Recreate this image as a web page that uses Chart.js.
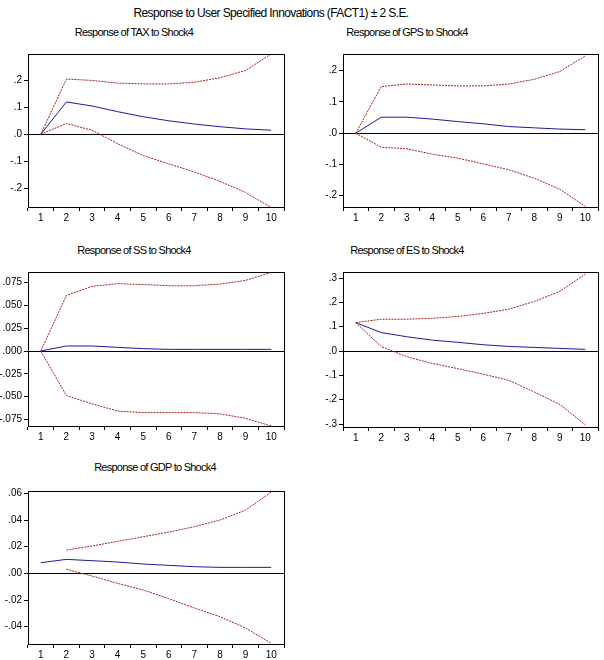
<!DOCTYPE html>
<html>
<head>
<meta charset="utf-8">
<script src="https://cdn.jsdelivr.net/npm/chart.js@4/dist/chart.umd.min.js"></script>
<style>
  html, body { margin: 0; padding: 0; background: #fff; }
  body { width: 604px; height: 660px; position: relative; overflow: hidden; font-family: "Liberation Sans", Arial, sans-serif; }
  .t { position: absolute; white-space: nowrap; color: #000; transform: translate(-50%, -50%); }
  .main { font-size: 12px; letter-spacing: -0.6px; }
  .sub { font-size: 11px; letter-spacing: -0.75px; }
  canvas { position: absolute; }
</style>
</head>
<body>
<div class="t main" id="mainTitle" style="left:271px; top:13px;">Response to User Specified Innovations (FACT1) ± 2 S.E.</div>

<script>
// ---------- data ----------
const periods = ["1","2","3","4","5","6","7","8","9","10"];

const taxResp  = [0, 0.120, 0.105, 0.084, 0.065, 0.050, 0.038, 0.028, 0.020, 0.015];
const taxUpper = [0, 0.205, 0.200, 0.190, 0.187, 0.187, 0.193, 0.210, 0.237, 0.298];
const taxLower = [0, 0.040, 0.015, -0.035, -0.079, -0.110, -0.140, -0.175, -0.216, -0.272];
const taxTicks = [-0.2, -0.1, 0, 0.1, 0.2];

const gpsResp  = [0, 0.051, 0.051, 0.045, 0.037, 0.030, 0.021, 0.017, 0.013, 0.011];
const gpsUpper = [0, 0.149, 0.157, 0.154, 0.151, 0.151, 0.157, 0.172, 0.197, 0.247];
const gpsLower = [0, -0.045, -0.050, -0.067, -0.080, -0.098, -0.117, -0.144, -0.179, -0.234];
const gpsTicks = [-0.2, -0.1, 0, 0.1, 0.2];

const ssResp  = [0, 0.0055, 0.0055, 0.0040, 0.0026, 0.0018, 0.0018, 0.0018, 0.0018, 0.0018];
const ssUpper = [0, 0.061, 0.071, 0.074, 0.073, 0.0717, 0.0717, 0.0735, 0.0776, 0.0864];
const ssLower = [0, -0.049, -0.058, -0.066, -0.0677, -0.0677, -0.0677, -0.069, -0.074, -0.0824];
const ssTicks = [-0.075, -0.05, -0.025, 0, 0.025, 0.05, 0.075];

const esResp  = [0.117, 0.076, 0.059, 0.045, 0.036, 0.026, 0.019, 0.015, 0.011, 0.007];
const esUpper = [0.117, 0.131, 0.131, 0.135, 0.142, 0.155, 0.172, 0.204, 0.245, 0.316];
const esLower = [0.117, 0.018, -0.023, -0.051, -0.072, -0.095, -0.120, -0.168, -0.219, -0.303];
const esTicks = [-0.3, -0.2, -0.1, 0, 0.1, 0.2, 0.3];

const gdpResp  = [0.008, 0.0105, 0.0095, 0.0085, 0.007, 0.006, 0.005, 0.0045, 0.0045, 0.0045];
const gdpUpper = [null, 0.0175, 0.0205, 0.024, 0.0275, 0.031, 0.035, 0.040, 0.0475, 0.061];
const gdpLower = [null, 0.003, -0.002, -0.0075, -0.0125, -0.019, -0.026, -0.0325, -0.041, -0.0525];
const gdpTicks = [-0.04, -0.02, 0, 0.02, 0.04, 0.06];

const panelTitles = ["Response of TAX to Shock4", "Response of GPS to Shock4", "Response of SS to Shock4", "Response of ES to Shock4", "Response of GDP to Shock4"];

// ---------- layout ----------
const panels = [
  { title: panelTitles[0], tx: 134, ty: 32, area: [28, 54, 284, 207], min: -0.27, max: 0.298, dec: 1, ticks: taxTicks, resp: taxResp, up: taxUpper, lo: taxLower },
  { title: panelTitles[1], tx: 407, ty: 32, area: [343, 54, 598, 207], min: -0.236, max: 0.253, dec: 1, ticks: gpsTicks, resp: gpsResp, up: gpsUpper, lo: gpsLower },
  { title: panelTitles[2], tx: 134, ty: 250, area: [28, 272, 284, 426], min: -0.0824, max: 0.0868, dec: 3, ticks: ssTicks, resp: ssResp, up: ssUpper, lo: ssLower },
  { title: panelTitles[3], tx: 407, ty: 250, area: [343, 272, 598, 427], min: -0.312, max: 0.325, dec: 1, ticks: esTicks, resp: esResp, up: esUpper, lo: esLower },
  { title: panelTitles[4], tx: 155, ty: 467, area: [28, 491, 284, 644], min: -0.053, max: 0.0618, dec: 2, ticks: gdpTicks, resp: gdpResp, up: gdpUpper, lo: gdpLower }
];

const RED = "#a82020";
const BLUE = "#1a1aa0";
const FONT = { family: "'Liberation Sans', Arial, sans-serif", size: 10 };

const framePlugin = {
  id: "frame",
  beforeDatasetsDraw(chart) {
    const a = chart.chartArea, ctx = chart.ctx;
    const y0 = chart.scales.y.getPixelForValue(0);
    ctx.save();
    ctx.strokeStyle = "#000";
    ctx.lineWidth = 1;
    ctx.beginPath();
    ctx.moveTo(a.left, Math.round(y0) + 0.5);
    ctx.lineTo(a.right, Math.round(y0) + 0.5);
    ctx.stroke();
    ctx.restore();
  },
  afterDatasetsDraw(chart) {
    const a = chart.chartArea, ctx = chart.ctx;
    ctx.save();
    ctx.strokeStyle = "#000";
    ctx.lineWidth = 1;
    ctx.strokeRect(Math.round(a.left) + 0.5, Math.round(a.top) + 0.5, Math.round(a.right - a.left), Math.round(a.bottom - a.top));
    ctx.restore();
  }
};

function fmt(v, dec) {
  if (Math.abs(v) < 1e-12) return "." + "0".repeat(dec);
  let s = Math.abs(v).toFixed(dec).replace(/^0\./, ".");
  return (v < 0 ? "-" : "") + s;
}

const PAD_TOP = 8, XAX_H = 20, PAD_R = 4;

panels.forEach((p, i) => {
  const [L, T, R, B] = p.area;
  const cl = L < 200 ? 0 : 300;
  const yW = L - cl;
  const ct = T - PAD_TOP;
  const w = R - cl + PAD_R;
  const h = (B - T) + PAD_TOP + XAX_H;

  const title = document.createElement("div");
  title.className = "t sub";
  title.style.left = p.tx + "px";
  title.style.top = p.ty + "px";
  title.textContent = p.title;
  document.body.appendChild(title);

  const cv = document.createElement("canvas");
  cv.style.left = cl + "px";
  cv.style.top = ct + "px";
  cv.style.width = w + "px";
  cv.style.height = h + "px";
  cv.width = w; cv.height = h;
  document.body.appendChild(cv);

  new Chart(cv.getContext("2d"), {
    type: "line",
    data: {
      labels: periods,
      datasets: [
        { data: p.up, borderColor: RED, borderWidth: 1, borderDash: [2, 1], pointRadius: 0, tension: 0, fill: false },
        { data: p.lo, borderColor: RED, borderWidth: 1, borderDash: [2, 1], pointRadius: 0, tension: 0, fill: false },
        { data: p.resp, borderColor: BLUE, borderWidth: 1, pointRadius: 0, tension: 0, fill: false }
      ]
    },
    options: {
      responsive: false,
      animation: false,
      devicePixelRatio: 1,
      layout: { padding: { top: PAD_TOP, right: PAD_R, left: 0, bottom: 0 } },
      plugins: { legend: { display: false }, tooltip: { enabled: false }, title: { display: false } },
      scales: {
        x: {
          type: "category",
          offset: true,
          grid: { offset: true, drawOnChartArea: false, drawTicks: true, tickLength: 4, color: "#000" },
          border: { display: true, color: "#000" },
          ticks: { color: "#000", font: FONT, padding: 1, maxRotation: 0, autoSkip: false },
          afterFit(s) { s.height = XAX_H; }
        },
        y: {
          min: p.min, max: p.max,
          grid: { drawOnChartArea: false, drawTicks: true, tickLength: 4, color: "#000" },
          border: { display: true, color: "#000" },
          ticks: { color: "#000", font: FONT, padding: 2, callback: (v) => fmt(v, p.dec) },
          afterBuildTicks(s) { s.ticks = p.ticks.map(v => ({ value: v })); },
          afterFit(s) { s.width = yW; }
        }
      }
    },
    plugins: [framePlugin]
  });
});
</script>
</body>
</html>
